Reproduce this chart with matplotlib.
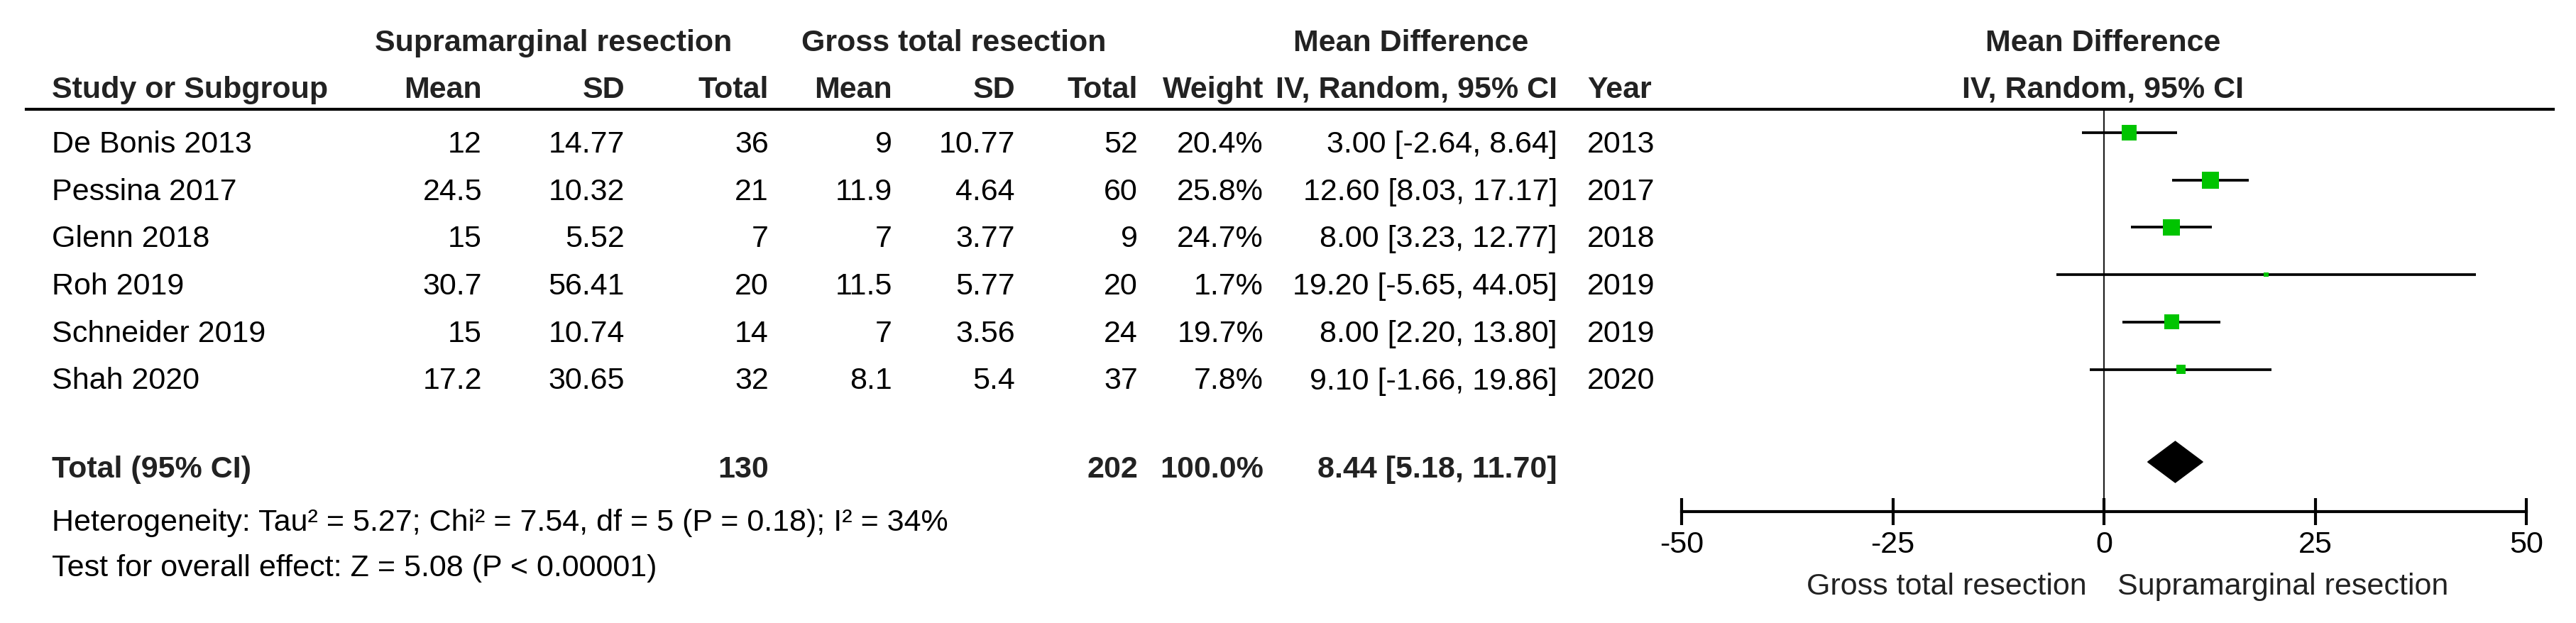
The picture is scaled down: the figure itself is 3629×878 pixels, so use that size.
import matplotlib
matplotlib.use("Agg")
from matplotlib import pyplot as plt
from matplotlib.lines import Line2D
import numpy as np

# study data
studies = ['De Bonis 2013', 'Pessina 2017', 'Glenn 2018', 'Roh 2019', 'Schneider 2019', 'Shah 2020']
sm_mean = [12, 24.5, 15, 30.7, 15, 17.2]
sm_sd = [14.77, 10.32, 5.52, 56.41, 10.74, 30.65]
sm_n = [36, 21, 7, 20, 14, 32]
gt_mean = [9, 11.9, 7, 11.5, 7, 8.1]
gt_sd = [10.77, 4.64, 3.77, 5.77, 3.56, 5.4]
gt_n = [52, 60, 9, 20, 24, 37]
weights = [20.4, 25.8, 24.7, 1.7, 19.7, 7.8]
md = [3.00, 12.60, 8.00, 19.20, 8.00, 9.10]
ci_lo = [-2.64, 8.03, 3.23, -5.65, 2.20, -1.66]
ci_hi = [8.64, 17.17, 12.77, 44.05, 13.80, 19.86]
years = [2013, 2017, 2018, 2019, 2019, 2020]

total_sm_n = 130
total_gt_n = 202
total_weight = 100.0
total_md = 8.44
total_lo = 5.18
total_hi = 11.70

heterogeneity = "Heterogeneity: Tau² = 5.27; Chi² = 7.54, df = 5 (P = 0.18); I² = 34%"
overall = "Test for overall effect: Z = 5.08 (P < 0.00001)"
xticks = [-50, -25, 0, 25, 50]

# layout (pixels from top-left)
W, H = 3630, 879
ROW0, ROWSTEP = 188, 66.7
TOTAL_Y = 652
FS = 31
GREEN = '#00c400'
HEAD = '#222222'

plt.rcParams['font.family'] = ['Liberation Sans', 'DejaVu Sans']

fig = plt.figure(figsize=(W / 100, H / 100), dpi=100)


def put(x, y, s, ha='left', bold=False, color='black'):
    fig.text(x / W, 1 - y / H, s, ha=ha, va='baseline', fontsize=FS,
             fontweight='bold' if bold else 'normal', color=color)


# headers
put(780, 72, 'Supramarginal resection', ha='center', bold=True, color=HEAD)
put(1344, 72, 'Gross total resection', ha='center', bold=True, color=HEAD)
put(1988, 72, 'Mean Difference', ha='center', bold=True, color=HEAD)
put(2963, 72, 'Mean Difference', ha='center', bold=True, color=HEAD)
put(73, 138, 'Study or Subgroup', bold=True, color=HEAD)
for x, s in [(679, 'Mean'), (880, 'SD'), (1083, 'Total'), (1257, 'Mean'), (1430, 'SD'),
             (1603, 'Total'), (1780, 'Weight'), (2194, 'IV, Random, 95% CI')]:
    put(x, 138, s, ha='right', bold=True, color=HEAD)
put(2236, 138, 'Year', bold=True, color=HEAD)
put(2963, 138, 'IV, Random, 95% CI', ha='center', bold=True, color=HEAD)

fig.add_artist(Line2D([37 / W, 3597 / W], [1 - 155 / H, 1 - 155 / H], color='black', lw=3.0))

# study rows
for i, name in enumerate(studies):
    yb = ROW0 + ROWSTEP * i + 27
    put(73, yb, name)
    put(679, yb, f"{sm_mean[i]:g}", ha='right')
    put(880, yb, f"{sm_sd[i]:g}", ha='right')
    put(1083, yb, f"{sm_n[i]}", ha='right')
    put(1257, yb, f"{gt_mean[i]:g}", ha='right')
    put(1430, yb, f"{gt_sd[i]:g}", ha='right')
    put(1603, yb, f"{gt_n[i]}", ha='right')
    put(1780, yb, f"{weights[i]:.1f}%", ha='right')
    put(2194, yb, f"{md[i]:.2f} [{ci_lo[i]:.2f}, {ci_hi[i]:.2f}]", ha='right')
    put(2236, yb, f"{years[i]}")

# total row
put(73, 673, 'Total (95% CI)', bold=True, color=HEAD)
put(1083, 673, f"{total_sm_n}", ha='right', bold=True, color=HEAD)
put(1603, 673, f"{total_gt_n}", ha='right', bold=True, color=HEAD)
put(1780, 673, f"{total_weight:.1f}%", ha='right', bold=True, color=HEAD)
put(2194, 673, f"{total_md:.2f} [{total_lo:.2f}, {total_hi:.2f}]", ha='right', bold=True, color=HEAD)
put(73, 748, heterogeneity)
put(73, 812, overall)

# forest panel
x0, x1 = 2369, 3559
top, bottom = 157, 722
ax = fig.add_axes([x0 / W, 1 - bottom / H, (x1 - x0) / W, (bottom - top) / H])
ax.set_xlim(-50, 50)
ax.set_ylim(bottom, top)
ax.patch.set_alpha(0)
for sp in ['top', 'left', 'right']:
    ax.spines[sp].set_visible(False)
ax.spines['bottom'].set_linewidth(3.0)
ax.set_yticks([])
ax.set_xticks(xticks)
ax.set_xticklabels([str(t) for t in xticks])
ax.tick_params(axis='x', direction='inout', length=27, width=3.0, pad=5, labelsize=FS)

ax.axvline(0, color=HEAD, lw=1.6, zorder=1)

row_y = [ROW0 + ROWSTEP * i for i in range(len(studies))]
for i in range(len(studies)):
    ax.plot([ci_lo[i], ci_hi[i]], [row_y[i], row_y[i]], color='black', lw=2.7,
            solid_capstyle='butt', zorder=2)
# square side grows with sqrt(weight)
sizes = [(4.72 * np.sqrt(w) * 0.72) ** 2 for w in weights]
ax.scatter(md, row_y, s=sizes, marker='s', color=GREEN, linewidths=0, zorder=3)

half = 29
ax.fill([total_lo, total_md, total_hi, total_md],
        [TOTAL_Y, TOTAL_Y - half, TOTAL_Y, TOTAL_Y + half], color='black', zorder=3)

put(2940, 838, 'Gross total resection', ha='right', color=HEAD)
put(2983, 838, 'Supramarginal resection', color=HEAD)

fig.savefig('out.png', dpi=100)
